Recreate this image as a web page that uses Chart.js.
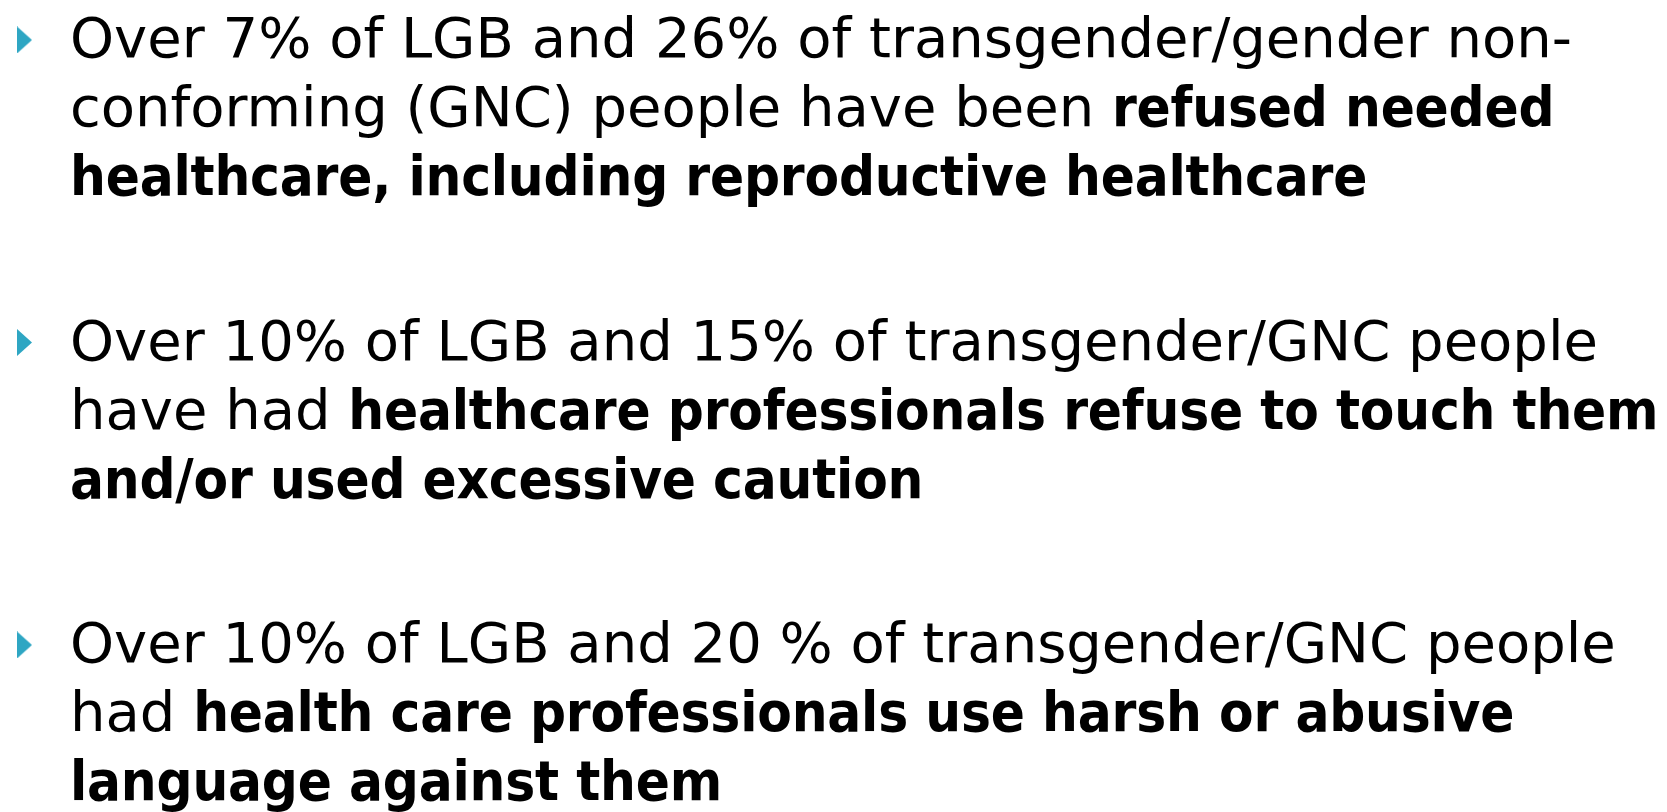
<!DOCTYPE html>
<html>
<head>
<meta charset="utf-8">
<script src="https://cdn.jsdelivr.net/npm/chart.js@4"></script>
<style>
  html, body { margin: 0; padding: 0; background: #fff; }
  body { width: 1667px; height: 812px; position: relative; overflow: hidden; }
  #bullets { position: absolute; left: 0; top: 0; width: 120px; height: 812px; }
  .para {
    position: absolute; left: 70px;
    font-family: "DejaVu Sans", sans-serif;
    font-size: 56px; line-height: 69px; color: #000; white-space: nowrap;
  }
  .para b {
    font-family: "DejaVu Sans Condensed", "DejaVu Sans", sans-serif;
    font-weight: bold; letter-spacing: -0.2px;
  }
</style>
</head>
<body>
<div id="bullets"><canvas id="bullet-chart"></canvas></div>
<div id="text"></div>
<script>
// Slide bullets: each line is a list of [text, bold] pieces
const bulletLines = [
  [
    [["Over 7% of LGB and 26% of transgender/gender non-", false]],
    [["conforming (GNC) people have been ", false], ["refused needed", true]],
    [["healthcare, including reproductive healthcare", true]],
  ],
  [
    [["Over 10% of LGB and 15% of transgender/GNC people", false]],
    [["have had ", false], ["healthcare professionals refuse to touch them", true]],
    [["and/or used excessive caution", true]],
  ],
  [
    [["Over 10% of LGB and 20 % of transgender/GNC people", false]],
    [["had ", false], ["health care professionals use harsh or abusive", true]],
    [["language against them", true]],
  ],
];
const bulletIndex = [0, 1, 2];

// Text blocks
const textBox = document.getElementById("text");
bulletLines.forEach((para, i) => {
  const div = document.createElement("div");
  div.className = "para";
  div.style.top = (3 + i * 302.5) + "px";
  div.innerHTML = para
    .map((line) => line.map(([t, bold]) => (bold ? `<b>${t}</b>` : t)).join(""))
    .join("<br>");
  textBox.appendChild(div);
});

// Narrow teal triangle used as the point style
const marker = document.createElement("canvas");
marker.width = 15;
marker.height = 27;
const mctx = marker.getContext("2d");
mctx.fillStyle = "#2ea6c3";
mctx.beginPath();
mctx.moveTo(0, 0);
mctx.lineTo(15, 13.5);
mctx.lineTo(0, 27);
mctx.closePath();
mctx.fill();

// Bullets drawn as scatter points
const bulletCanvas = document.getElementById("bullet-chart");
let bulletChart = new Chart(bulletCanvas, {
  type: "scatter",
  data: {
    datasets: [
      {
        data: bulletIndex.map((v) => ({ x: 0, y: v })),
        pointStyle: marker,
        pointRadius: 10,
      },
    ],
  },
  options: {
    responsive: true,
    maintainAspectRatio: false,
    animation: false,
    layout: { padding: 0, autoPadding: false },
    plugins: { legend: { display: false }, tooltip: { enabled: false } },
    scales: {
      x: { display: false, min: -24.5, max: 95.5 },
      y: { display: false, reverse: true, min: -0.1322, max: 2.5521 },
    },
  },
});
</script>
</body>
</html>
